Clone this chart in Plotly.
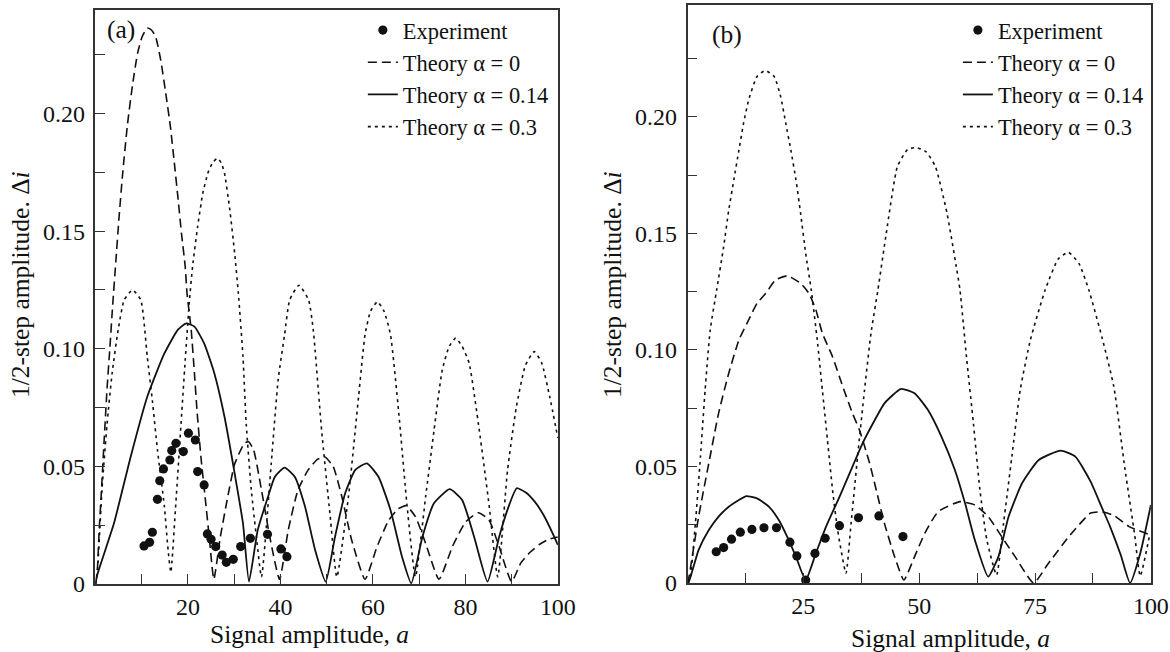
import plotly.graph_objects as go

# ---------------- Panel (a) data ----------------
a_exp_x = [10.5, 11.7, 12.3, 13.4, 13.9, 14.7, 16.1, 16.5, 17.4, 19.0, 20.1, 21.6, 22.1,
           23.5, 24.2, 25.0, 26.0, 27.4, 28.3, 29.8, 31.4, 33.5, 37.2, 40.1, 41.4]
a_exp_y = [0.0162, 0.0177, 0.0220, 0.0360, 0.0439, 0.0489, 0.0527, 0.0567, 0.0598, 0.0563,
           0.0641, 0.0612, 0.0478, 0.0421, 0.0213, 0.0190, 0.0159, 0.0123, 0.0092, 0.0105,
           0.0159, 0.0194, 0.0211, 0.0149, 0.0116]

a_t0_x = [0, 0.4, 0.8, 1.3, 1.9, 2.5, 3.1, 3.7, 4.4, 5.1, 5.9, 6.9, 8.0, 9.1, 10.1, 11.2,
          12.1, 13.0, 14.1, 15.2, 16.2, 17.0, 17.9, 18.6, 19.4, 19.8, 20.7, 21.4, 22.0, 22.8,
          23.7, 24.6, 25.6, 27.0, 28.6, 30.1, 32.2, 33.1, 34.2, 35.9, 37.7, 39.8,
          41.7, 43.8, 46.0, 48.0, 49.6, 51.4, 53.3, 55.4, 58.3,
          60.9, 63.4, 65.5, 67.2, 69.2, 71.4, 74.3,
          77.2, 80.1, 82.8, 85.1, 87.3, 90.0, 92.0, 94.0, 96.0, 98.0, 100]
a_t0_y = [0, 0.006, 0.023, 0.040, 0.062, 0.083, 0.100, 0.118, 0.137, 0.156, 0.175, 0.195,
          0.212, 0.2256, 0.2327, 0.2363, 0.2355, 0.2327, 0.2228, 0.2086, 0.1944, 0.180,
          0.163, 0.149, 0.135, 0.1236, 0.108, 0.0896, 0.0726, 0.0541, 0.0371, 0.020, 0.002,
          0.020, 0.037, 0.051, 0.0598, 0.0605, 0.057, 0.040, 0.020, 0.002,
          0.023, 0.040, 0.0485, 0.053, 0.054, 0.050, 0.037, 0.0187, 0.002,
          0.0159, 0.027, 0.032, 0.0333, 0.0286, 0.0173, 0.002,
          0.0159, 0.0265, 0.0303, 0.0272, 0.0159, 0.001, 0.009, 0.0135, 0.0168, 0.019, 0.020]

a_t14_x = [0, 0.4, 4.0, 7.6, 11.2, 14.9, 17.8, 19.6, 21.4, 23.5, 25.7, 27.9, 30.1, 31.9, 33.2,
           35.1, 37.3, 38.8, 40.9, 43.1, 45.3, 47.5, 49.8, 51.8, 54.0, 56.2, 58.7, 61.2, 63.8,
           66.3, 68.3, 70.7, 73.2, 76.6, 79.3, 81.9, 84.8, 87.3, 89.1, 91.1, 93.0, 95.0, 97.0,
           99.0, 100]
a_t14_y = [0, 0.004, 0.0258, 0.054, 0.0796, 0.098, 0.108, 0.1108, 0.1094, 0.1023, 0.0896,
           0.0711, 0.047, 0.0258, 0.001, 0.023, 0.037, 0.0456, 0.0495, 0.0456, 0.033, 0.0145,
           0.001, 0.020, 0.0386, 0.0485, 0.0513, 0.0456, 0.0315, 0.0116, 0.0003, 0.020, 0.0343,
           0.0403, 0.0357, 0.020, 0.001, 0.020, 0.0315, 0.0407, 0.039, 0.035, 0.029, 0.021, 0.0166]

a_t3_x = [0, 0.4, 1.4, 2.5, 3.6, 4.9, 6.2, 8.0, 9.8, 11.2, 12.3, 13.4, 14.9, 15.7, 16.3,
          17.4, 18.4, 19.4, 20.3, 21.0, 22.1, 23.2, 24.3, 25.3, 26.4, 27.2, 27.9, 29.0, 30.1,
          30.9, 31.9, 32.6, 33.7, 34.8, 35.9,
          38.0, 39.5, 40.9, 42.0, 44.0, 46.1, 47.1, 48.9, 50.7, 52.2,
          54.7, 56.9, 58.3, 59.5, 61.0, 62.4, 63.8, 65.6, 67.4, 69.2,
          71.4, 73.2, 75.0, 76.5, 77.9, 79.3, 80.8, 83.0, 85.1, 87.0,
          89.1, 91.0, 93.0, 94.9, 96.5, 98.2, 100]
a_t3_y = [0, 0.005, 0.040, 0.068, 0.0896, 0.108, 0.1207, 0.125, 0.1207, 0.0966, 0.078, 0.057,
          0.033, 0.0145, 0.005, 0.035, 0.065, 0.095, 0.120, 0.135, 0.152, 0.166, 0.1746, 0.179,
          0.181, 0.179, 0.1746, 0.160, 0.1406, 0.1236, 0.0966, 0.068, 0.040, 0.020, 0.003,
          0.051, 0.0867, 0.106, 0.1207, 0.127, 0.1207, 0.108, 0.0655, 0.030, 0.003,
          0.037, 0.0796, 0.106, 0.116, 0.120, 0.116, 0.106, 0.0726, 0.033, 0.003,
          0.037, 0.065, 0.091, 0.101, 0.1045, 0.101, 0.094, 0.0655, 0.034, 0.003,
          0.048, 0.075, 0.093, 0.0988, 0.094, 0.080, 0.062]

# ---------------- Panel (b) data ----------------
b_exp_x = [6.2, 7.8, 9.5, 11.4, 13.9, 16.5, 19.2, 22.1, 23.6, 25.5, 27.5, 29.7, 32.8, 36.9, 41.3, 46.5]
b_exp_y = [0.0134, 0.0152, 0.0188, 0.0218, 0.0230, 0.0237, 0.0237, 0.0175, 0.0116, 0.0013,
           0.0127, 0.0192, 0.0246, 0.0280, 0.0288, 0.0199]

b_t0_x = [0, 0.2, 2.4, 4.6, 6.7, 8.9, 11.1, 13.2, 15.0, 16.9, 19.0, 21.5, 24.4, 26.2, 27.7,
          29.1, 31.3, 33.5, 35.6, 37.1, 39.3, 40.6, 42.5, 44.7, 46.7, 49.0, 51.2, 54.1, 58.8,
          62.0, 64.9, 67.8, 70.7, 74.7, 77.9, 82.3, 87.0, 89.5, 92.0, 95.3, 100]
b_t0_y = [0, 0.0013, 0.0285, 0.0514, 0.0728, 0.090, 0.1043, 0.1129, 0.120, 0.1243, 0.130,
          0.1318, 0.1286, 0.1243, 0.1172, 0.1072, 0.0971, 0.0843, 0.0728, 0.0657, 0.0514,
          0.041, 0.0256, 0.0113, 0.0013, 0.0113, 0.0213, 0.0306, 0.0349, 0.0335, 0.0285,
          0.0199, 0.0113, 0.0, 0.0085, 0.0199, 0.030, 0.0305, 0.029, 0.0242, 0.0206]

b_t14_x = [0, 0.2, 2.4, 4.6, 6.7, 8.9, 11.1, 12.7, 15.0, 17.6, 19.7, 21.5, 23.4, 25.5, 27.7,
           29.9, 32.8, 35.3, 37.8, 40.3, 42.5, 46.1, 49.0, 51.9, 54.8, 57.7, 59.9, 62.0, 64.9,
           67.1, 69.3, 72.2, 75.8, 80.5, 83.7, 87.0, 89.5, 91.2, 93.5, 95.5, 97.7, 100]
b_t14_y = [0, 0.0, 0.0142, 0.0227, 0.0285, 0.0327, 0.0356, 0.0373, 0.0363, 0.0327, 0.027,
           0.0199, 0.0113, 0.0013, 0.0127, 0.0242, 0.037, 0.0485, 0.060, 0.0695, 0.0771,
           0.0833, 0.0814, 0.0742, 0.0628, 0.0485, 0.0342, 0.0185, 0.0027, 0.0113, 0.0285,
           0.0428, 0.0528, 0.0568, 0.0542, 0.0435, 0.032, 0.0242, 0.012, 0.0, 0.0127, 0.0335]

b_t3_x = [0, 0.6, 1.7, 2.8, 3.8, 4.9, 6.3, 7.8, 8.9, 10.0, 11.1, 12.1, 13.2, 15.0, 16.8, 18.7,
          20.1, 21.2, 22.3, 23.4, 24.4, 25.5, 26.7, 28.0, 29.1, 30.2, 31.3, 32.4, 34.2, 35.3,
          36.7, 38.2, 39.6, 41.1, 42.9, 45.3, 47.5, 49.4, 51.5, 53.5, 56.0, 58.0, 58.8, 60.2,
          61.7, 63.1, 64.6, 66.7, 68.2, 70.0, 71.8, 74.0, 77.2, 80.0, 82.2, 84.5, 86.6, 89.5,
          92.0, 94.4, 96.5, 97.7, 99.8]
b_t3_y = [0, 0.0027, 0.0256, 0.0542, 0.0828, 0.1086, 0.1258, 0.1443, 0.160, 0.173, 0.1858,
          0.1973, 0.2073, 0.2173, 0.2199, 0.2173, 0.2087, 0.1973, 0.1858, 0.173, 0.1587,
          0.1415, 0.1258, 0.1043, 0.0828, 0.0614, 0.040, 0.0227, 0.0042, 0.0256, 0.0542,
          0.0828, 0.1072, 0.1258, 0.1501, 0.1787, 0.186, 0.1868, 0.185, 0.1787, 0.1587,
          0.1358, 0.1258, 0.0971, 0.0685, 0.040, 0.0185, 0.0034, 0.0256, 0.0542, 0.0828,
          0.1043, 0.1258, 0.139, 0.1419, 0.137, 0.1258, 0.105, 0.0843, 0.049, 0.0207, 0.003, 0.0213]

# ---------------- Axis ticks ----------------
y_tickvals = [0, 0.025, 0.05, 0.075, 0.10, 0.125, 0.15, 0.175, 0.20, 0.225]
y_ticktext = ["0", "", "0.05", "", "0.10", "", "0.15", "", "0.20", ""]
xa_tickvals = [10, 20, 30, 40, 50, 60, 70, 80, 90, 100]
xa_ticktext = ["", "20", "", "40", "", "60", "", "80", "", "100"]
xb_tickvals = [12.5, 25, 37.5, 50, 62.5, 75, 87.5, 100]
xb_ticktext = ["", "25", "", "50", "", "75", "", "100"]

names = ["Experiment", "Theory \u03b1 = 0", "Theory \u03b1 = 0.14", "Theory \u03b1 = 0.3"]

FONT = "Liberation Serif, Times New Roman, Times, DejaVu Serif, serif"
INK = "#111111"
DASH = "9px,5px"
DOT = "3px,4px"

# reference frame (pixels of the 1170x652 target); the capture comes out ~2% smaller
RW, RH = 1170, 652
S = 0.98
FW, FH = round(RW / S), round(RH / S)


def PX(px):
    return px / RW


def PY(py):
    return 1 - py / RH


def F(size):
    return size / S


fig = go.Figure()


def add_panel(xs, ys, xref, yref, legend):
    (ex, ey), (t0x, t0y), (t14x, t14y), (t3x, t3y) = zip(xs, ys)
    fig.add_trace(go.Scatter(x=ex, y=ey, mode="markers", name=names[0],
                             marker=dict(color=INK, size=F(9)), xaxis=xref, yaxis=yref,
                             legend=legend, legendgroup=legend + "e"))
    fig.add_trace(go.Scatter(x=t0x, y=t0y, mode="lines", name=names[1],
                             line=dict(color=INK, width=1.6, dash=DASH, shape="spline", smoothing=0.5),
                             xaxis=xref, yaxis=yref, legend=legend, legendgroup=legend + "0"))
    fig.add_trace(go.Scatter(x=t14x, y=t14y, mode="lines", name=names[2],
                             line=dict(color=INK, width=1.8, shape="spline", smoothing=0.5),
                             xaxis=xref, yaxis=yref, legend=legend, legendgroup=legend + "14"))
    fig.add_trace(go.Scatter(x=t3x, y=t3y, mode="lines", name=names[3],
                             line=dict(color=INK, width=1.6, dash=DOT, shape="spline", smoothing=0.5),
                             xaxis=xref, yaxis=yref, legend=legend, legendgroup=legend + "3"))


add_panel([a_exp_x, a_t0_x, a_t14_x, a_t3_x], [a_exp_y, a_t0_y, a_t14_y, a_t3_y], "x", "y", "legend")
add_panel([b_exp_x, b_t0_x, b_t14_x, b_t3_x], [b_exp_y, b_t0_y, b_t14_y, b_t3_y], "x2", "y2", "legend2")

axis_common = dict(showline=True, mirror=True, linecolor="#333333", linewidth=1.5,
                   ticks="inside", ticklen=10, tickwidth=1.2, tickcolor="#333333",
                   showgrid=False, zeroline=False,
                   tickfont=dict(family=FONT, size=F(23.5), color=INK))

fig.update_layout(
    width=FW, height=FH,
    margin=dict(l=0, r=0, t=0, b=0),
    paper_bgcolor="white", plot_bgcolor="white",
    showlegend=True,
    xaxis=dict(domain=[PX(95), PX(555)], range=[0, 100], anchor="y",
               tickmode="array", tickvals=xa_tickvals, ticktext=xa_ticktext, **axis_common),
    yaxis=dict(domain=[PY(584), PY(10)], range=[0, 0.244], anchor="x", ticklabelstandoff=4,
               tickmode="array", tickvals=y_tickvals, ticktext=y_ticktext, **axis_common),
    xaxis2=dict(domain=[PX(684), PX(1145)], range=[0, 100], anchor="y2",
                tickmode="array", tickvals=xb_tickvals, ticktext=xb_ticktext, **axis_common),
    yaxis2=dict(domain=[PY(583), PY(5)], range=[0, 0.248], anchor="x2", ticklabelstandoff=4,
                tickmode="array", tickvals=y_tickvals, ticktext=y_ticktext, **axis_common),
    legend=dict(x=PX(361), y=PY(9), xanchor="left", yanchor="top",
                bgcolor="rgba(0,0,0,0)", font=dict(family=FONT, size=F(22), color=INK),
                tracegroupgap=0),
    legend2=dict(x=PX(953), y=PY(9), xanchor="left", yanchor="top",
                 bgcolor="rgba(0,0,0,0)", font=dict(family=FONT, size=F(22), color=INK),
                 tracegroupgap=0),
)

ann_font = dict(family=FONT, size=F(25), color=INK)
annotations = [
    dict(text="(a)", x=PX(120), y=PY(30)),
    dict(text="(b)", x=PX(723), y=PY(34)),
    dict(text="Signal amplitude, <i>a</i>", x=PX(308), y=PY(634)),
    dict(text="Signal amplitude, <i>a</i>", x=PX(946), y=PY(638)),
    dict(text="1/2-step amplitude. \u0394<i>i</i>", x=PX(20), y=PY(285), textangle=-90),
    dict(text="1/2-step amplitude. \u0394<i>i</i>", x=PX(609), y=PY(285), textangle=-90),
]
for a in annotations:
    fig.add_annotation(xref="paper", yref="paper", showarrow=False,
                       xanchor="center", yanchor="middle", font=ann_font, **a)

fig.write_html("out.html")
